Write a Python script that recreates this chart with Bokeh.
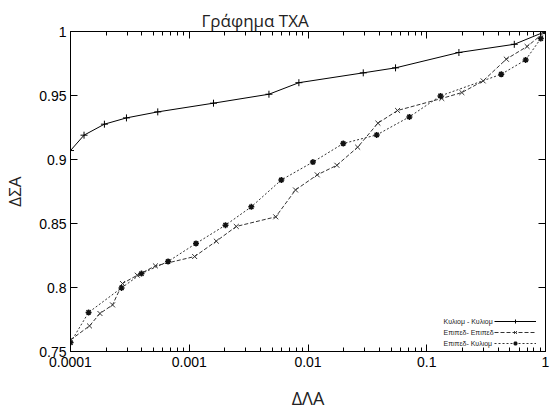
from bokeh.plotting import figure
from bokeh.models import (FixedTicker, PrintfTickFormatter, LinearAxis, LogAxis,
                          Legend, LegendItem, Label)
from bokeh.embed import file_html
from bokeh.resources import INLINE

# ---- data ----
x_kk = [1e-4, 1.3e-4, 1.93e-4, 2.96e-4, 5.43e-4, 1.6e-3, 4.69e-3, 8.38e-3,
        0.0292, 0.0546, 0.1866, 0.546, 1.0]
y_kk = [0.907, 0.919, 0.9276, 0.9325, 0.9372, 0.944, 0.951, 0.960,
        0.9677, 0.9716, 0.9836, 0.990, 1.0]

x_ee = [1e-4, 1.445e-4, 1.77e-4, 2.26e-4, 2.74e-4, 3.65e-4, 5.19e-4, 1.11e-3,
        1.69e-3, 2.49e-3, 5.35e-3, 7.85e-3, 0.01196, 0.0175, 0.0262, 0.0388,
        0.0568, 0.1338, 0.1975, 0.2985, 0.4677, 0.70, 1.0]
y_ee = [0.759, 0.770, 0.7797, 0.7864, 0.8031, 0.8096, 0.8169, 0.8242,
        0.8362, 0.8477, 0.8552, 0.8762, 0.888, 0.8955, 0.9096, 0.9284,
        0.9383, 0.9477, 0.9523, 0.9614, 0.9784, 0.9883, 1.0]

x_ek = [1e-4, 1.42e-4, 2.69e-4, 3.96e-4, 6.63e-4, 1.14e-3, 2.02e-3, 3.33e-3,
        5.96e-3, 0.011, 0.0198, 0.0379, 0.0714, 0.1305, 0.4241, 0.6808, 0.913, 1.0]
y_ek = [0.757, 0.7805, 0.7997, 0.8109, 0.8203, 0.8344, 0.8487, 0.863,
        0.884, 0.898, 0.9125, 0.9192, 0.9333, 0.9497, 0.9666, 0.9778, 0.9945, 1.0]

series_names = ["Κυλιομ - Κυλιομ", "Επιπεδ- Επιπεδ", "Επιπεδ- Κυλιομ"]

x_ticks = [0.0001, 0.001, 0.01, 0.1, 1]
x_minor = [m * d for d in [1e-4, 1e-3, 1e-2, 1e-1] for m in range(2, 10)]
y_ticks = [0.75, 0.8, 0.85, 0.9, 0.95, 1.0]

title_text = "Γράφημα ΤΧΑ"
x_label = "ΔΛΑ"
y_label = "ΔΣΑ"

# ---- figure ----
p = figure(x_axis_type="log", x_range=(1e-4, 1), y_range=(0.75, 1),
           frame_width=475, frame_height=320,
           min_border_left=59, min_border_right=8, min_border_top=31,
           min_border_bottom=52,
           output_backend="svg", toolbar_location=None)

p.title.text = title_text
p.title.align = "left"
p.title.offset = 131
p.title.text_font = "Open Sans"
p.title.text_font_size = "17px"
p.title.text_font_style = "normal"
p.title.text_color = "#222222"
p.title.standoff = 0

p.xgrid.visible = False
p.ygrid.visible = False
p.outline_line_color = "black"
p.outline_line_width = 1

xt = FixedTicker(ticks=x_ticks, minor_ticks=x_minor)
yt = FixedTicker(ticks=y_ticks, minor_ticks=[])
fmt = PrintfTickFormatter(format="%g")


def style_axis(ax, show_labels=True):
    ax.axis_line_color = "black"
    ax.major_tick_line_color = "black"
    ax.minor_tick_line_color = "black"
    ax.major_tick_in = 7
    ax.major_tick_out = 0
    ax.minor_tick_in = 4
    ax.minor_tick_out = 0
    ax.formatter = fmt
    if show_labels:
        ax.major_label_text_font = "Liberation Sans"
        ax.major_label_text_font_size = "14px"
        ax.major_label_text_color = "black"
    else:
        ax.major_label_text_font_size = "1px"
        ax.major_label_text_color = None
        ax.major_label_standoff = 0


xa = p.xaxis[0]
xa.ticker = xt
style_axis(xa)
xa.major_label_standoff = 5
xa.axis_label = x_label
xa.axis_label_text_font = "Open Sans"
xa.axis_label_text_font_size = "18px"
xa.axis_label_text_font_style = "normal"
xa.axis_label_text_color = "#222222"
xa.axis_label_standoff = 16

ya = p.yaxis[0]
ya.ticker = yt
style_axis(ya)
ya.major_label_standoff = 4
ya.axis_label = y_label
ya.axis_label_text_font = "Open Sans"
ya.axis_label_text_font_size = "17px"
ya.axis_label_text_font_style = "normal"
ya.axis_label_text_color = "#222222"
ya.axis_label_standoff = 10

top = LogAxis(ticker=xt)
style_axis(top, show_labels=False)
p.add_layout(top, "above")
right = LinearAxis(ticker=yt)
style_axis(right, show_labels=False)
p.add_layout(right, "right")

# ---- series ----
r1 = p.line(x_kk, y_kk, line_color="black", line_width=1)
m1 = p.scatter(x_kk, y_kk, marker="cross", size=7, line_color="black", line_width=1)
r2 = p.line(x_ee, y_ee, line_color="#333333", line_width=1, line_dash="4 2")
m2 = p.scatter(x_ee, y_ee, marker="x", size=7, line_color="#333333", line_width=1)
r3 = p.line(x_ek, y_ek, line_color="#333333", line_width=1, line_dash="2 2")
m3 = p.scatter(x_ek, y_ek, marker="asterisk", size=6, line_color="#111111", line_width=1.5)

legend = Legend(items=[LegendItem(label=" ", renderers=[r1, m1]),
                       LegendItem(label=" ", renderers=[r2, m2]),
                       LegendItem(label=" ", renderers=[r3, m3])],
                location=(424, 3), glyph_width=42, glyph_height=10,
                label_width=0, label_height=10, label_standoff=0,
                padding=0, spacing=1, margin=0,
                border_line_alpha=0, background_fill_alpha=0,
                label_text_font_size="7px", label_text_color=None)
p.add_layout(legend)

row_y = [30, 19, 8]
for name, yy in zip(series_names, row_y):
    p.add_layout(Label(x=373, y=yy, x_units="screen", y_units="screen",
                       text=name, text_font="Liberation Sans",
                       text_font_size="7px", text_baseline="middle",
                       text_color="#222222"))

open("out.html", "w").write(file_html(p, INLINE))
